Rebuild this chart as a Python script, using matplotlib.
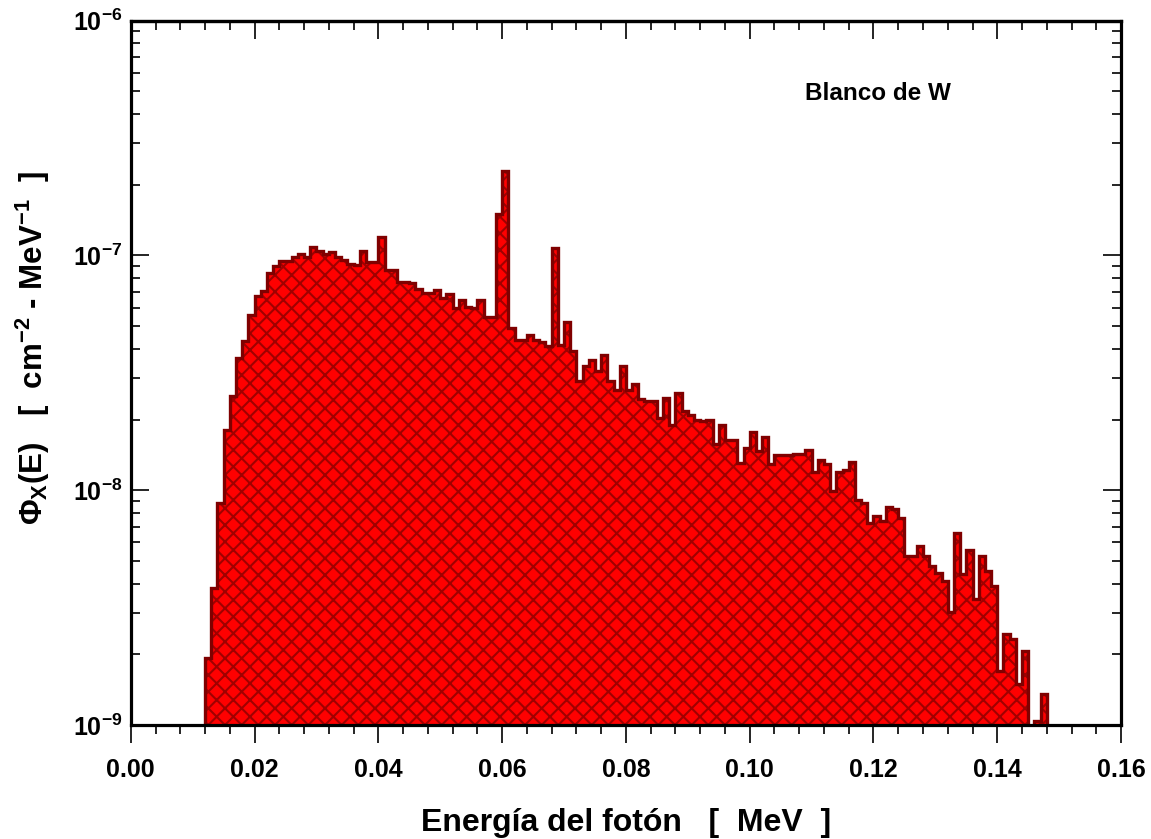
import numpy as np
import matplotlib
matplotlib.use("Agg")
import matplotlib.pyplot as plt
from matplotlib.ticker import MultipleLocator, LogLocator, FuncFormatter, NullFormatter

E_MIN = 0.012
BIN_W = 0.001

phi = [
    1.93e-9, 3.84e-9, 8.84e-9, 1.80e-8, 2.51e-8, 3.66e-8, 4.31e-8, 5.60e-8, 6.69e-8, 7.08e-8,
    8.42e-8, 9.04e-8, 9.43e-8, 9.43e-8, 9.90e-8, 1.017e-7, 9.90e-8, 1.086e-7, 1.05e-7, 1.017e-7,
    1.03e-7, 9.85e-8, 9.52e-8, 9.22e-8, 9.13e-8, 1.05e-7, 9.34e-8, 9.40e-8, 1.20e-7, 8.63e-8,
    8.63e-8, 7.68e-8, 7.68e-8, 7.60e-8, 7.19e-8, 6.92e-8, 6.92e-8, 7.15e-8, 6.59e-8, 6.87e-8,
    5.97e-8, 6.48e-8, 6.03e-8, 6.00e-8, 6.44e-8, 5.47e-8, 5.47e-8, 1.50e-7, 2.30e-7, 4.91e-8,
    4.38e-8, 4.38e-8, 4.57e-8, 4.35e-8, 4.30e-8, 4.13e-8, 1.075e-7, 4.17e-8, 5.19e-8, 3.90e-8,
    2.91e-8, 3.37e-8, 3.60e-8, 3.21e-8, 3.78e-8, 2.91e-8, 2.66e-8, 3.37e-8, 2.68e-8, 2.84e-8,
    2.45e-8, 2.39e-8, 2.39e-8, 2.03e-8, 2.47e-8, 1.90e-8, 2.60e-8, 2.17e-8, 2.10e-8, 2.00e-8,
    1.97e-8, 2.00e-8, 1.58e-8, 1.90e-8, 1.63e-8, 1.63e-8, 1.31e-8, 1.52e-8, 1.77e-8, 1.47e-8,
    1.69e-8, 1.29e-8, 1.41e-8, 1.41e-8, 1.41e-8, 1.42e-8, 1.42e-8, 1.49e-8, 1.20e-8, 1.34e-8,
    1.29e-8, 9.9e-9, 1.20e-8, 1.22e-8, 1.32e-8, 9.06e-9, 8.78e-9, 7.27e-9, 7.76e-9, 7.38e-9,
    8.50e-9, 8.28e-9, 7.58e-9, 5.24e-9, 5.24e-9, 5.78e-9, 5.27e-9, 4.75e-9, 4.42e-9, 4.10e-9,
    3.03e-9, 6.59e-9, 4.38e-9, 5.54e-9, 3.43e-9, 5.27e-9, 4.52e-9, 3.90e-9, 1.70e-9, 2.43e-9,
    2.32e-9, 1.49e-9, 2.07e-9, 8.0e-10, 1.04e-9, 1.35e-9,
]

x_ticks = [0.00, 0.02, 0.04, 0.06, 0.08, 0.10, 0.12, 0.14, 0.16]
y_ticks = [1e-9, 1e-8, 1e-7, 1e-6]

edges = E_MIN + BIN_W * np.arange(len(phi) + 1)

# ===== estilo =====
plt.rcParams.update({
    "font.family": "Liberation Sans",
    "font.weight": "bold",
    "mathtext.fontset": "custom",
    "mathtext.rm": "Liberation Sans:bold",
    "mathtext.bf": "Liberation Sans:bold",
    "mathtext.it": "Liberation Sans:bold",
    "hatch.linewidth": 1.5,
})

fig = plt.figure(figsize=(11.51, 8.39), dpi=100)
ax = fig.add_axes([0.1136, 0.1359, 0.8604, 0.8394])

col_fill = "#ff0000"
col_hatch = "#a00000"
col_edge = "#800000"
base = 1e-9

# relleno rojo + rayado cruzado
ax.stairs(phi, edges, baseline=base, fill=True, facecolor=col_fill, edgecolor="none", zorder=1)
ax.stairs(phi, edges, baseline=base, fill=True, facecolor="none", edgecolor=col_hatch,
          hatch="xx", linewidth=0, zorder=2)
# contorno
ax.stairs(phi, edges, baseline=base, fill=False, color=col_edge, linewidth=2.4, zorder=3)

ax.set_yscale("log")
ax.set_xlim(0.0, 0.16)
ax.set_ylim(1e-9, 1e-6)

ax.set_xticks(x_ticks)
ax.xaxis.set_major_formatter(FuncFormatter(lambda v, p: f"{v:.2f}"))
ax.xaxis.set_minor_locator(MultipleLocator(0.004))
ax.set_yticks(y_ticks)
ax.yaxis.set_minor_locator(LogLocator(base=10, subs=np.arange(2, 10)))
ax.yaxis.set_minor_formatter(NullFormatter())
ax.yaxis.set_major_formatter(FuncFormatter(lambda v, p: r"$\mathbf{10^{%d}}$" % round(np.log10(v))))

ax.tick_params(axis="x", which="major", direction="out", length=13, width=1.2,
               labelsize=18, pad=11, top=False)
ax.tick_params(axis="x", which="minor", direction="out", length=6.5, width=1.2, top=False)
ax.tick_params(axis="y", which="major", direction="in", length=13, width=1.2,
               labelsize=18, pad=6, left=True, right=True)
ax.tick_params(axis="y", which="minor", direction="in", length=6.5, width=1.2,
               left=True, right=True)

# marcas superiores hacia dentro
sec = ax.secondary_xaxis("top")
sec.set_xticks(x_ticks)
sec.xaxis.set_minor_locator(MultipleLocator(0.004))
sec.xaxis.set_major_formatter(NullFormatter())
sec.tick_params(axis="x", which="major", direction="in", length=13, width=1.2)
sec.tick_params(axis="x", which="minor", direction="in", length=6.5, width=1.2)
sec.spines["top"].set_linewidth(2.3)

for s in ax.spines.values():
    s.set_linewidth(2.3)
    s.set_zorder(5)

ax.set_xlabel("Energía del fotón   [  MeV  ]", fontsize=23, fontweight="bold")
ax.xaxis.set_label_coords(0.5, -0.118)
ax.set_ylabel(r"$\mathbf{\Phi_X(E)}$   [  cm$^{\mathbf{-2}}$ - MeV$^{\mathbf{-1}}$  ]",
              fontsize=22.5, fontweight="bold")
ax.yaxis.set_label_coords(-0.080, 0.535)

ax.text(0.681, 0.897, "Blanco de W", transform=ax.transAxes, fontsize=17.5,
        fontweight="bold", ha="left", va="center")

fig.savefig("out.png", dpi=100)
